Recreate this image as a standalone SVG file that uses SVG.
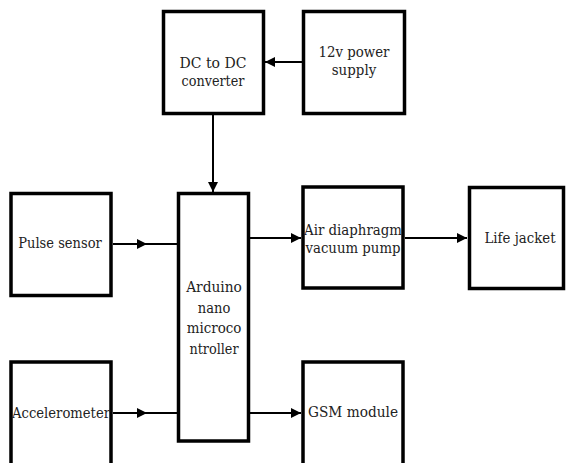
<svg xmlns="http://www.w3.org/2000/svg" width="566" height="463" viewBox="0 0 566 463">
<defs>
<style>
.box{fill:#fff;stroke:#000;stroke-width:3.5}
.con{fill:none;stroke:#000;stroke-width:2}
text{font-family:'DejaVu Serif','Liberation Serif',serif;font-size:15px;fill:#222;text-anchor:middle}
</style>
<marker id="ah" markerUnits="userSpaceOnUse" markerWidth="10" markerHeight="10" refX="10" refY="5" orient="auto" viewBox="0 0 10 10">
<path d="M0,0 L10,5 L0,10 z" fill="#000"/>
</marker>
</defs>
<rect width="566" height="463" fill="#fff"/>
<g id="connectors">
<path class="con" d="M302,62 L265,62" marker-end="url(#ah)"/>
<path class="con" d="M213,115 L213,192" marker-end="url(#ah)"/>
<path class="con" d="M113,244 L147,244" marker-end="url(#ah)"/>
<path class="con" d="M146,244 L178,244"/>
<path class="con" d="M113,413 L147,413" marker-end="url(#ah)"/>
<path class="con" d="M146,413 L178,413"/>
<path class="con" d="M250,238 L301,238" marker-end="url(#ah)"/>
<path class="con" d="M405,238 L467,238" marker-end="url(#ah)"/>
<path class="con" d="M250,413 L301,413" marker-end="url(#ah)"/>
</g>
<g id="dcdc">
<rect class="box" x="163.5" y="11.5" width="100" height="102"/>
<text x="213" y="68" textLength="67" lengthAdjust="spacingAndGlyphs">DC to DC</text>
<text x="213" y="86" textLength="63" lengthAdjust="spacingAndGlyphs">converter</text>
</g>
<g id="power">
<rect class="box" x="303.5" y="11.5" width="101" height="102"/>
<text x="354" y="57" textLength="71" lengthAdjust="spacingAndGlyphs">12v power</text>
<text x="354" y="75" textLength="44.5" lengthAdjust="spacingAndGlyphs">supply</text>
</g>
<g id="pulse">
<rect class="box" x="11" y="193.5" width="100" height="102"/>
<text x="60" y="248" textLength="83.5" lengthAdjust="spacingAndGlyphs">Pulse sensor</text>
</g>
<g id="arduino">
<rect class="box" x="178.5" y="193.5" width="70" height="247.5"/>
<text x="214" y="292" textLength="55.7" lengthAdjust="spacingAndGlyphs">Arduino</text>
<text x="214" y="313" textLength="32.5" lengthAdjust="spacingAndGlyphs">nano</text>
<text x="214" y="333" textLength="54.7" lengthAdjust="spacingAndGlyphs">microco</text>
<text x="214" y="354" textLength="49.2" lengthAdjust="spacingAndGlyphs">ntroller</text>
</g>
<g id="pump">
<rect class="box" x="303" y="187" width="100" height="101"/>
<text x="353" y="235" textLength="98" lengthAdjust="spacingAndGlyphs">Air diaphragm</text>
<text x="353" y="253" textLength="95" lengthAdjust="spacingAndGlyphs">vacuum pump</text>
</g>
<g id="lifejacket">
<rect class="box" x="469.5" y="187.5" width="94" height="101"/>
<text x="520" y="243" textLength="71" lengthAdjust="spacingAndGlyphs">Life jacket</text>
</g>
<g id="accelerometer">
<rect class="box" x="11" y="362" width="100" height="104"/>
<text x="61" y="418" textLength="98" lengthAdjust="spacingAndGlyphs">Accelerometer</text>
</g>
<g id="gsm">
<rect class="box" x="303" y="362" width="100" height="104"/>
<text x="353" y="417" textLength="90" lengthAdjust="spacingAndGlyphs">GSM module</text>
</g>
</svg>
